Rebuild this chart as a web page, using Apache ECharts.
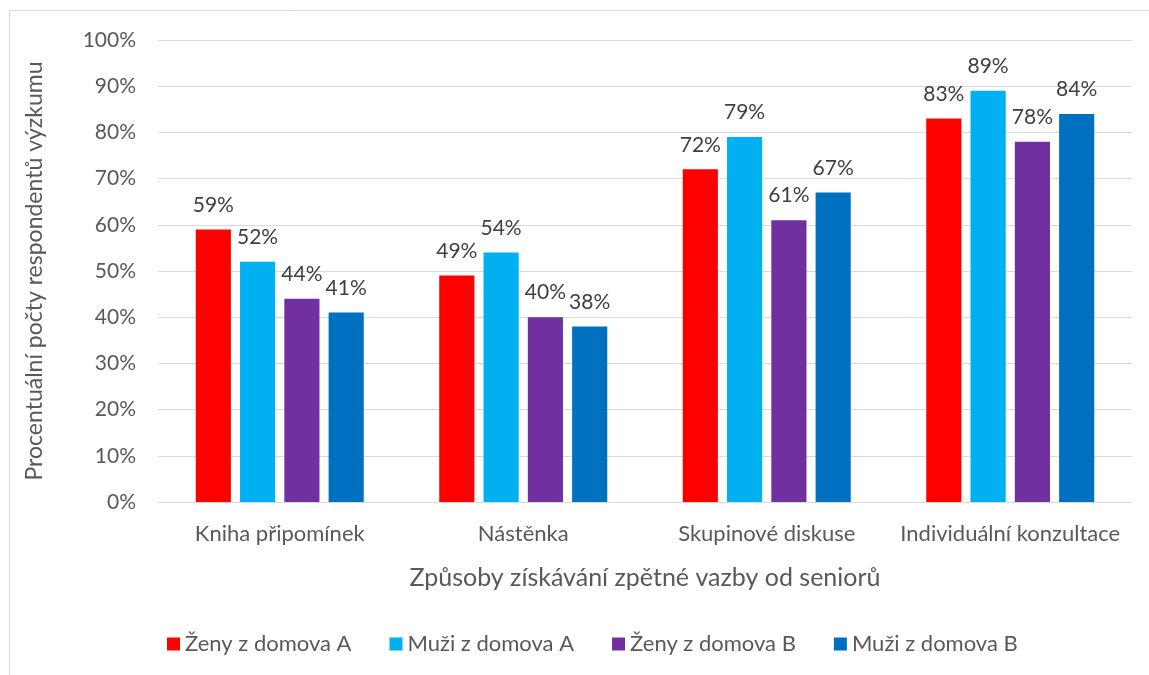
<!DOCTYPE html>
<html><head><meta charset="utf-8">
<script src="https://cdn.jsdelivr.net/npm/echarts@6/dist/echarts.min.js"></script>
<style>html,body{margin:0;padding:0;background:#fff}#c{width:1149px;height:675px}</style>
</head><body><div id="c"></div>
<script>
const categories = ['Kniha připomínek', 'Nástěnka', 'Skupinové diskuse', 'Individuální konzultace'];
const zenyA = [59, 49, 72, 83];
const muziA = [52, 54, 79, 89];
const zenyB = [44, 40, 61, 78];
const muziB = [41, 38, 67, 84];
const seriesNames = ['Ženy z domova A', 'Muži z domova A', 'Ženy z domova B', 'Muži z domova B'];
const colors = ['#FF0000', '#00B0F0', '#7030A0', '#0070C0'];
const yTicks = [0, 10, 20, 30, 40, 50, 60, 70, 80, 90, 100];

const FONT = 'Lato';
const chart = echarts.init(document.getElementById('c'), null, {renderer: 'canvas'});
const mk = (name, data, i) => ({
  name, type: 'bar', data,
  barGap: '26%', barCategoryGap: '31%',
  itemStyle: {color: colors[i]},
  label: {show: true, position: 'top', distance: 14, formatter: p => p.value + '%',
          color: '#404040', fontSize: 21, fontFamily: FONT}
});
chart.setOption({
  animation: false,
  textStyle: {fontFamily: FONT},
  graphic: [{type: 'rect', shape: {x: 9.5, y: 10.5, width: 1300, height: 800},
             style: {fill: 'none', stroke: '#D9D9D9', lineWidth: 1}, silent: true}],
  grid: {left: 158, right: 17, top: 40, bottom: 173},
  legend: {
    bottom: 15, left: 162, icon: 'rect', itemWidth: 13, itemHeight: 13, itemGap: 38,
    textStyle: {color: '#595959', fontSize: 22, fontFamily: FONT},
    data: seriesNames
  },
  xAxis: {
    type: 'category', data: categories,
    name: 'Způsoby získávání zpětné vazby od seniorů', nameLocation: 'middle', nameGap: 63,
    nameTextStyle: {color: '#595959', fontSize: 25, fontFamily: FONT},
    axisLine: {lineStyle: {color: '#D9D9D9', width: 1}},
    axisTick: {show: false},
    axisLabel: {color: '#595959', fontSize: 22, margin: 21, interval: 0, fontFamily: FONT}
  },
  yAxis: {
    type: 'value', min: 0, max: 100, interval: 10,
    name: 'Procentuální počty respondentů výzkumu', nameLocation: 'middle', nameGap: 112, nameRotate: 90,
    nameTextStyle: {color: '#595959', fontSize: 23, fontFamily: FONT},
    axisLabel: {color: '#595959', fontSize: 21, margin: 22, fontFamily: FONT,
                formatter: v => yTicks.includes(v) ? v + '%' : ''},
    splitLine: {lineStyle: {color: '#D9D9D9', width: 1}},
    axisLine: {show: false}, axisTick: {show: false}
  },
  series: [mk(seriesNames[0], zenyA, 0), mk(seriesNames[1], muziA, 1), mk(seriesNames[2], zenyB, 2), mk(seriesNames[3], muziB, 3)]
});
</script></body></html>
